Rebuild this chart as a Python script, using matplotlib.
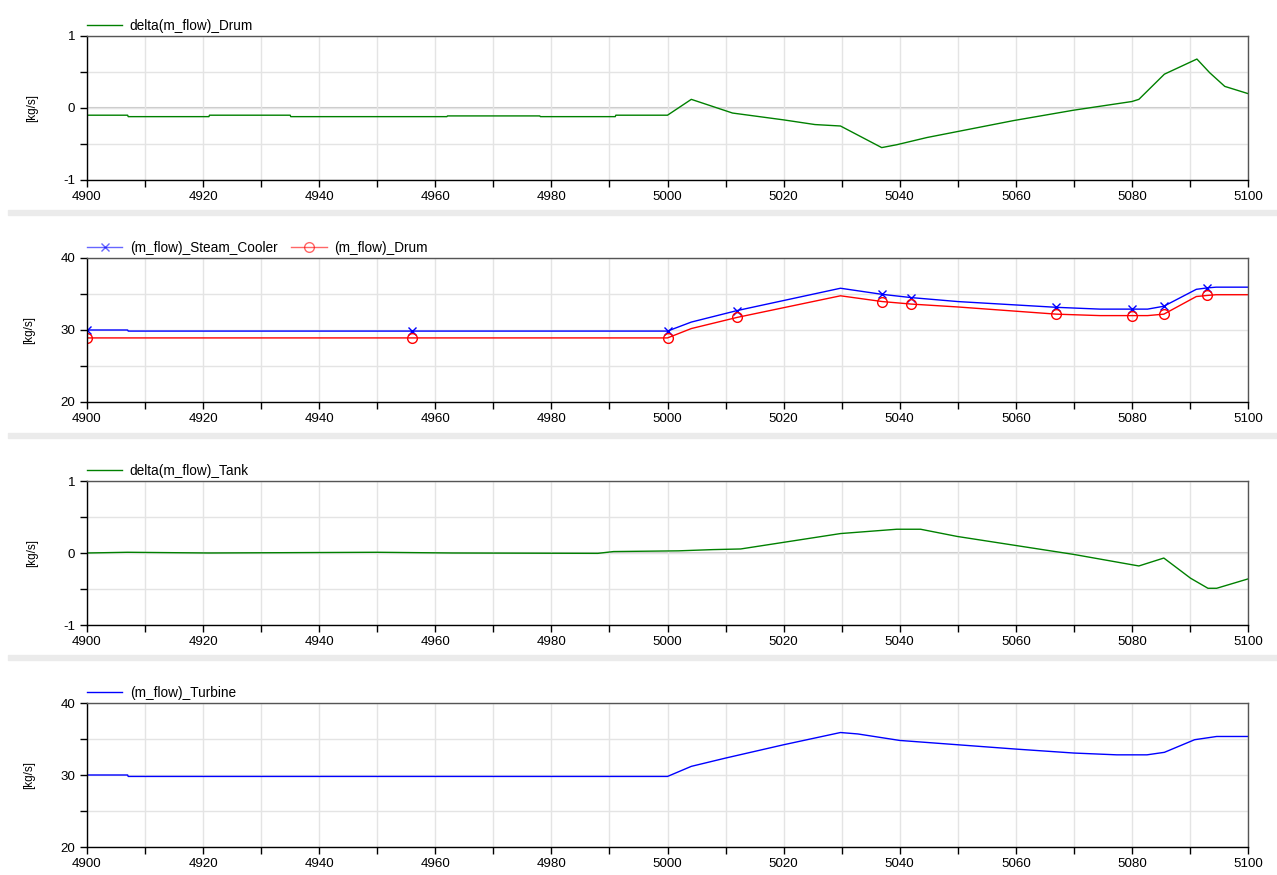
import numpy as np
import matplotlib
matplotlib.use("Agg")
import matplotlib.pyplot as plt
from matplotlib.patches import Rectangle

plt.rcParams['font.family'] = ['Liberation Sans', 'DejaVu Sans']
plt.rcParams['axes.unicode_minus'] = False

# time axis [s] and series
t_drum = [4900, 4907, 4907.1, 4921, 4921.1, 4935, 4935.1, 4962, 4962.1, 4978, 4978.1, 4991, 4991.1,
          5000, 5004.1, 5011.2, 5020, 5025.4, 5029.8, 5036.9, 5039.5, 5044.7, 5059.6, 5070, 5080,
          5081.2, 5085.6, 5091.2, 5093.4, 5096, 5100]
delta_drum = [-0.10, -0.10, -0.12, -0.12, -0.10, -0.10, -0.12, -0.12, -0.11, -0.11, -0.12, -0.12, -0.10,
              -0.10, 0.12, -0.07, -0.165, -0.23, -0.25, -0.55, -0.51, -0.41, -0.175, -0.03, 0.09,
              0.12, 0.47, 0.68, 0.49, 0.30, 0.20]

t_flow = [4900, 4907, 4907.1, 4956, 5000, 5004.1, 5012, 5029.8, 5037, 5042, 5050, 5067, 5074.5,
          5080, 5082.7, 5085.5, 5091.1, 5093, 5094.5, 5100]
flow_cooler = [30.0, 30.0, 29.85, 29.85, 29.85, 31.1, 32.7, 35.8, 34.95, 34.5, 33.95, 33.15, 32.9,
               32.9, 32.9, 33.3, 35.65, 35.85, 35.95, 35.95]
flow_drum = [28.9, 28.9, 28.9, 28.9, 28.9, 30.2, 31.75, 34.75, 33.95, 33.6, 33.2, 32.2, 32.0,
             32.0, 32.0, 32.2, 34.65, 34.8, 34.9, 34.9]
marker_t = [4900, 4956, 5000, 5012, 5037, 5042, 5067, 5080, 5085.5, 5093]

t_tank = [4900, 4907, 4921, 4950, 4963, 4988, 4990.7, 5001.9, 5007.8, 5012.6, 5029.8, 5039.5,
          5043.6, 5049.9, 5070, 5081.2, 5085.5, 5090.1, 5093.1, 5094.6, 5100]
delta_tank = [0.0, 0.01, 0.0, 0.01, 0.0, -0.005, 0.02, 0.03, 0.047, 0.056, 0.27, 0.33,
              0.33, 0.23, -0.02, -0.18, -0.07, -0.35, -0.49, -0.49, -0.36]

t_turb = [4900, 4907, 4907.1, 5000, 5004.1, 5010, 5020, 5029.8, 5032.8, 5040, 5050, 5060, 5070,
          5077.4, 5082.6, 5085.6, 5090.8, 5094.6, 5100]
flow_turbine = [30.0, 30.0, 29.8, 29.8, 31.2, 32.35, 34.2, 35.9, 35.7, 34.8, 34.2, 33.6, 33.05,
                32.8, 32.8, 33.15, 34.9, 35.35, 35.35]

W, H = 1277, 875
fig = plt.figure(figsize=(W / 100, H / 100), dpi=100)

left = 87 / W
width = (1248 - 87) / W
tops = [36, 258, 481, 703]
ph = 144


def style_axis(ax, ylim, yticks, ystep, zero_line=False):
    ax.set_xlim(4900, 5100)
    ax.set_ylim(*ylim)
    ax.set_xticks(np.arange(4900, 5101, 20))
    ax.set_xticks(np.arange(4900, 5101, 10), minor=True)
    ax.set_yticks(yticks)
    ax.set_yticks(np.arange(ylim[0], ylim[1] + 0.001, ystep), minor=True)
    ax.grid(True, which='both', color='#e4e4e4', linewidth=1.0)
    ax.set_axisbelow(True)
    if zero_line:
        ax.axhline(0, color='#c8c8c8', linewidth=1.5, zorder=0.5)
    ax.tick_params(which='both', direction='out', length=5, width=1, labelsize=9.6, colors='black')
    ax.tick_params(axis='x', pad=3)
    for s in ['left', 'bottom']:
        ax.spines[s].set_color('black')
        ax.spines[s].set_linewidth(1.0)
    for s in ['top', 'right']:
        ax.spines[s].set_color('#555555')
        ax.spines[s].set_linewidth(1.0)
    ax.set_ylabel('[kg/s]', fontsize=8.5, labelpad=18)


def add_legend(ax, ncol=1):
    return ax.legend(loc='lower left', bbox_to_anchor=(0.0, 1.02), frameon=False, ncol=ncol,
                     fontsize=9.8, handlelength=2.6, handletextpad=0.55, columnspacing=1.0,
                     borderaxespad=0, borderpad=0)


axes = []
for top in tops:
    ax = fig.add_axes([left, 1 - (top + ph) / H, width, ph / H])
    axes.append(ax)

# panel 1
ax = axes[0]
style_axis(ax, (-1, 1), [-1, 0, 1], 0.5, zero_line=True)
ax.plot(t_drum, delta_drum, color='#008000', linewidth=1.0, label='delta(m_flow)_Drum')
add_legend(ax)

# panel 2
ax = axes[1]
style_axis(ax, (20, 40), [20, 30, 40], 5)
idx = [t_flow.index(m) for m in marker_t]
ax.plot(t_flow, flow_cooler, color='#0000ff', linewidth=1.0, marker='x', markersize=6,
        markevery=idx, label='(m_flow)_Steam_Cooler')
ax.plot(t_flow, flow_drum, color='#ff0000', linewidth=1.0, marker='o', markersize=7,
        markerfacecolor='none', markevery=idx, label='(m_flow)_Drum')
leg = add_legend(ax, ncol=2)
for h in leg.legend_handles:
    h.set_alpha(0.6)

# panel 3
ax = axes[2]
style_axis(ax, (-1, 1), [-1, 0, 1], 0.5, zero_line=True)
ax.plot(t_tank, delta_tank, color='#008000', linewidth=1.0, label='delta(m_flow)_Tank')
add_legend(ax)

# panel 4
ax = axes[3]
style_axis(ax, (20, 40), [20, 30, 40], 5)
ax.plot(t_turb, flow_turbine, color='#0000ff', linewidth=1.0, label='(m_flow)_Turbine')
add_legend(ax)

# light separator bands between panels
for y0 in [210, 433, 655]:
    fig.patches.append(Rectangle((8 / W, 1 - (y0 + 5) / H), 1 - 8 / W, 5 / H,
                                 transform=fig.transFigure, color='#ebebeb', zorder=0))

fig.savefig('out.png', dpi=100)
